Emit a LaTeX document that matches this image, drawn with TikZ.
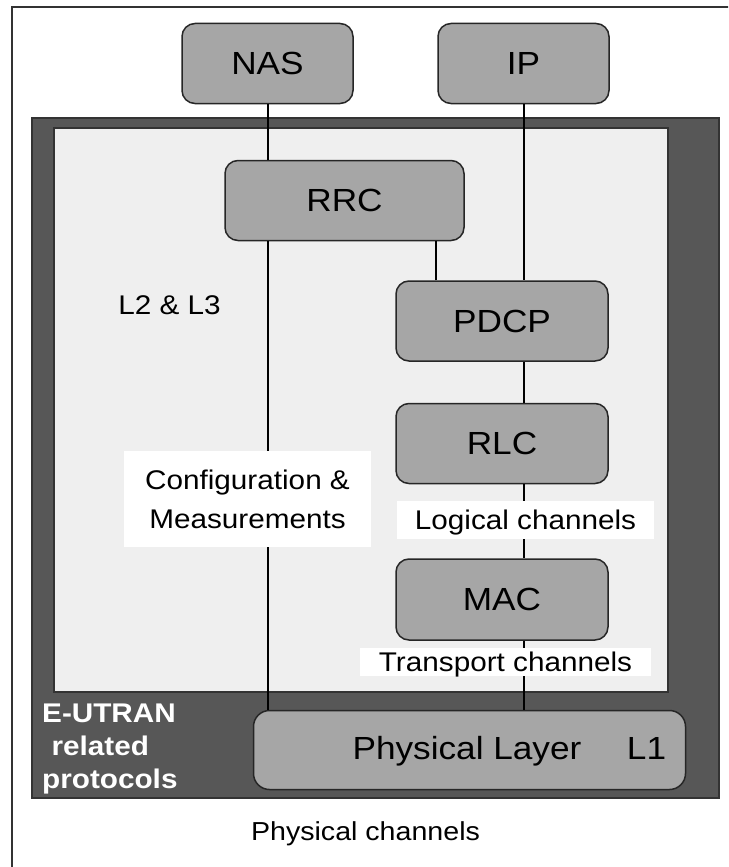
\documentclass[tikz,border=0pt]{standalone}
\usepackage{fontspec}
\setmainfont{Liberation Sans}[FakeStretch=1.1]
\usetikzlibrary{positioning}

\definecolor{bandgray}{HTML}{575757}
\definecolor{boxgray}{HTML}{A6A6A6}
\definecolor{layergray}{HTML}{EFEFEF}

\tikzstyle{area} = [rectangle, draw=black!80, line width=1.5pt, inner sep=0pt]
\tikzstyle{layer} = [rectangle, rounded corners=13pt, minimum width=212pt, minimum height=80pt, text centered, draw=black!85, line width=1.5pt, fill=boxgray, font=\fontsize{32}{38}\selectfont]
\tikzstyle{link} = [draw=black, line width=2pt]
\tikzstyle{tag} = [rectangle, fill=white, inner sep=0pt, text depth=0pt, align=center, font=\fontsize{27}{39}\selectfont]
\tikzstyle{plain} = [inner sep=0pt, font=\fontsize{27}{33}\selectfont]

\begin{document}
\begin{tikzpicture}[x=1pt, y=-1pt]

% Page frame (cut off at the right and bottom)
\useasboundingbox (0,0) rectangle (728,867);
\clip (0,0) rectangle (728,867);
\coordinate (frametop) at (740,7);
\coordinate (framecorner) at (12,7);
\coordinate (framebottom) at (12,880);
\draw [line width=2pt, draw=black!80] (frametop) -- (framecorner) -- (framebottom);

% E-UTRAN band and L2/L3 area
\node (band) [area, fill=bandgray, minimum width=687pt, minimum height=680pt] at (375.5,458) {};
\node (l23) [area, fill=layergray, minimum width=614pt, minimum height=564pt] at (361,410) {};

% Protocol layers
\node (nas) [layer, minimum width=171pt] at (267.5,63.5) {NAS};
\node (ip) [layer, minimum width=171pt] at (523.5,63.5) {IP};
\node (rrc) [layer, minimum width=239pt] at (344.5,200.5) {RRC};
\node (pdcp) [layer] at (502,321) {PDCP};
\node (rlc) [layer, below=41pt of pdcp] {RLC};
\node (mac) [layer, below=74pt of rlc, minimum height=81pt] {MAC};
\node (phy) [layer, minimum width=432pt, minimum height=79pt, rounded corners=16pt] at (469.5,750) {};
\node (phytext) [plain, anchor=base, font=\fontsize{32}{38}\selectfont] at (467,759) {Physical Layer};
\node (l1) [plain, anchor=base, font=\fontsize{32}{38}\selectfont] at (646.5,759) {L1};

% Connections between layers
\coordinate (pdcpin) at ([xshift=41pt]pdcp.north west);
\draw [link] (nas.south) -- (nas.south |- rrc.north);
\draw [link] (nas.south |- rrc.south) -- (nas.south |- phy.north);
\draw [link] (pdcpin) -- (pdcpin |- rrc.south);
\draw [link] (ip.south) -- (ip.south |- pdcp.north);
\draw [link] (ip.south |- pdcp.south) -- (ip.south |- rlc.north);
\draw [link] (ip.south |- rlc.south) -- (ip.south |- mac.north);
\draw [link] (ip.south |- mac.south) -- (ip.south |- phy.north);

% Labels
\node (cfg) [tag, minimum width=247pt, minimum height=96pt] at (247.5,499) {Configuration \&\\Measurements};
\node (logical) [tag, minimum width=257pt, minimum height=38pt] at (525.5,520) {Logical channels};
\node (transport) [tag, minimum width=291pt, minimum height=28pt] at (505.5,662) {Transport channels};
\node (l2l3) [plain, anchor=base] at (169.5,314) {L2 \& L3};
\node (eutran) [plain, anchor=north west, align=left, text=white, font=\bfseries\fontsize{27}{33}\selectfont] at (42,704) {E-UTRAN\\\hspace*{0.35em}related\\protocols};
\node (phych) [plain, anchor=base, font=\fontsize{26}{32}\selectfont] at (365.5,840) {Physical channels};

\end{tikzpicture}
\end{document}
